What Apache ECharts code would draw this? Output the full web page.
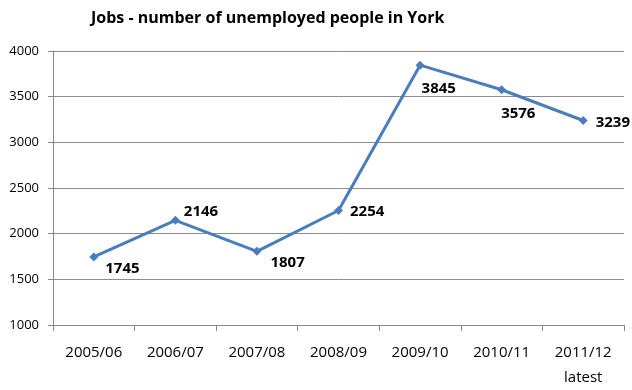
<!DOCTYPE html>
<html><head><meta charset="utf-8">
<script src="https://cdn.jsdelivr.net/npm/echarts@6/dist/echarts.min.js"></script>
<style>html,body{margin:0;padding:0;background:#fff}#c{width:632px;height:390px}</style>
</head><body><div id="c"></div>
<script>
var categories = ["2005/06","2006/07","2007/08","2008/09","2009/10","2010/11","2011/12\nlatest"];
var unemployed = [1745,2146,1807,2254,3845,3576,3239];
var yTicks = {min:1000, max:4000, interval:500};
var labelOffsets = [[2,12],[-1,-9],[4,11],[2,1],[-8,24],[-10,24],[3,2]];

var chart = echarts.init(document.getElementById('c'), null, {renderer:'canvas'});
chart.setOption({
  animation:false,
  title:{text:'Jobs - number of unemployed people in York', left:86, top:5,
    textStyle:{fontFamily:'Open Sans', fontWeight:'bold', fontSize:16, color:'#000'}},
  grid:{left:53, right:8, top:51, bottom:64, containLabel:false},
  xAxis:{type:'category', data:categories, boundaryGap:true,
    axisLine:{lineStyle:{color:'#888', width:1}},
    axisTick:{show:true, length:6, lineStyle:{color:'#888'}},
    axisLabel:{fontFamily:'Open Sans', fontSize:15, color:'#000', margin:15, lineHeight:25}},
  yAxis:{type:'value', min:yTicks.min, max:yTicks.max, interval:yTicks.interval,
    axisLine:{show:true, lineStyle:{color:'#888'}},
    axisTick:{show:true, length:5, lineStyle:{color:'#888'}},
    splitLine:{lineStyle:{color:'#8c8c8c', width:1}},
    axisLabel:{fontFamily:'Open Sans', fontSize:13, color:'#000', margin:14,
      formatter:function(v){return String(v);}}},
  series:[{type:'line', data:unemployed.map(function(v,i){
      return {value:v, label:{offset:labelOffsets[i]}};
    }),
    lineStyle:{color:'#4a7ebb', width:3},
    itemStyle:{color:'#4a7ebb'},
    symbol:'diamond', symbolSize:9,
    label:{show:true, position:'right', fontFamily:'Open Sans', fontWeight:'bold', fontSize:15, color:'#000'}
  }]
});
</script></body></html>
